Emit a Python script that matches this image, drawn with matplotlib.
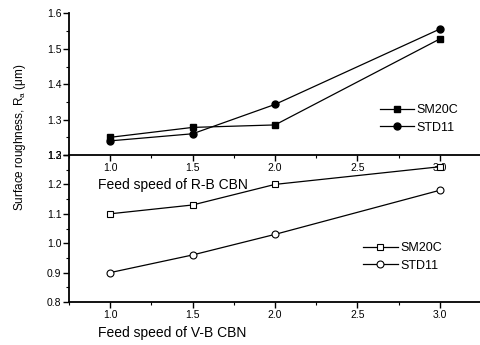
"""
Surface roughness vs feed speed for R-B and V-B CBN wheels (two stacked panels).
"""
import matplotlib
matplotlib.use('Agg')
import matplotlib.pyplot as plt
from matplotlib.ticker import MultipleLocator

plt.rcParams['font.family'] = ['Liberation Sans', 'DejaVu Sans']
plt.rcParams['mathtext.fontset'] = 'custom'
plt.rcParams['mathtext.rm'] = 'Liberation Sans'

feed = [1.0, 1.5, 2.0, 3.0]

# R-B CBN (upper panel)
rb_sm20c = [1.25, 1.278, 1.285, 1.528]
rb_std11 = [1.24, 1.26, 1.343, 1.556]

# V-B CBN (lower panel)
vb_sm20c = [1.10, 1.13, 1.20, 1.26]
vb_std11 = [0.90, 0.96, 1.03, 1.18]

series_labels = ['SM20C', 'STD11']
xticks = [1.0, 1.5, 2.0, 2.5, 3.0]

W, H = 481, 345
fig = plt.figure(figsize=(W / 100, H / 100), dpi=100)


def px(x0, y0, x1, y1):
    """Convert pixel box (top-left origin) to figure fraction rect."""
    return [x0 / W, 1 - y1 / H, (x1 - x0) / W, (y1 - y0) / H]


ax_top = fig.add_axes(px(69, 13.5, 481, 155))
ax_bot = fig.add_axes(px(69, 155, 481, 302))


def style(ax, ylim, ymajor):
    ax.patch.set_visible(False)
    ax.set_xlim(0.75, 3.25)
    ax.set_ylim(*ylim)
    ax.set_xticks(xticks)
    ax.set_xticklabels([f'{v:.1f}' for v in xticks])
    ax.xaxis.set_minor_locator(MultipleLocator(0.25))
    ax.yaxis.set_major_locator(MultipleLocator(ymajor))
    ax.yaxis.set_minor_locator(MultipleLocator(ymajor / 2))
    ax.yaxis.set_major_formatter(plt.FuncFormatter(lambda v, p: f'{v:.1f}'))
    for s in ['top', 'right']:
        ax.spines[s].set_visible(False)
    for s in ['left', 'bottom']:
        ax.spines[s].set_linewidth(1.3)
    ax.tick_params(which='major', direction='out', length=4, width=1.0,
                   labelsize=7.5, pad=1.5)
    ax.tick_params(which='minor', direction='out', length=2, width=0.8)


style(ax_top, (1.2, 1.6), 0.1)
style(ax_bot, (0.8, 1.3), 0.1)

kw = dict(color='black', linewidth=0.9)
ax_top.plot(feed, rb_sm20c, marker='s', markersize=4.5, label=series_labels[0], **kw)
ax_top.plot(feed, rb_std11, marker='o', markersize=5, label=series_labels[1], **kw)

ax_bot.plot(feed, vb_sm20c, marker='s', markersize=4.5, markerfacecolor='white',
            markeredgewidth=0.8, label=series_labels[0], **kw)
ax_bot.plot(feed, vb_std11, marker='o', markersize=5, markerfacecolor='white',
            markeredgewidth=0.8, label=series_labels[1], **kw)

ax_top.legend(loc='upper left', bbox_to_anchor=((380 - 69) / 412, (155 - 104) / 141.5),
              frameon=False, fontsize=9, borderpad=0, borderaxespad=0,
              handlelength=2.7, handletextpad=0.2, labelspacing=0.45)
ax_bot.legend(loc='upper left', bbox_to_anchor=((363 - 69) / 412, (302 - 242) / 147),
              frameon=False, fontsize=9, borderpad=0, borderaxespad=0,
              handlelength=2.8, handletextpad=0.2, labelspacing=0.45)

fig.text(98 / W, 1 - 185 / H, 'Feed speed of R-B CBN', fontsize=10,
         ha='left', va='center')
fig.text(98 / W, 1 - 333 / H, 'Feed speed of V-B CBN', fontsize=10,
         ha='left', va='center')
fig.text(20 / W, 1 - 137 / H, r'Surface roughness, R$_\mathregular{a}$ ($\mathregular{\mu}$m)',
         fontsize=8.5, rotation=90, ha='center', va='center')

fig.savefig('out.png', dpi=100)
plt.close(fig)
